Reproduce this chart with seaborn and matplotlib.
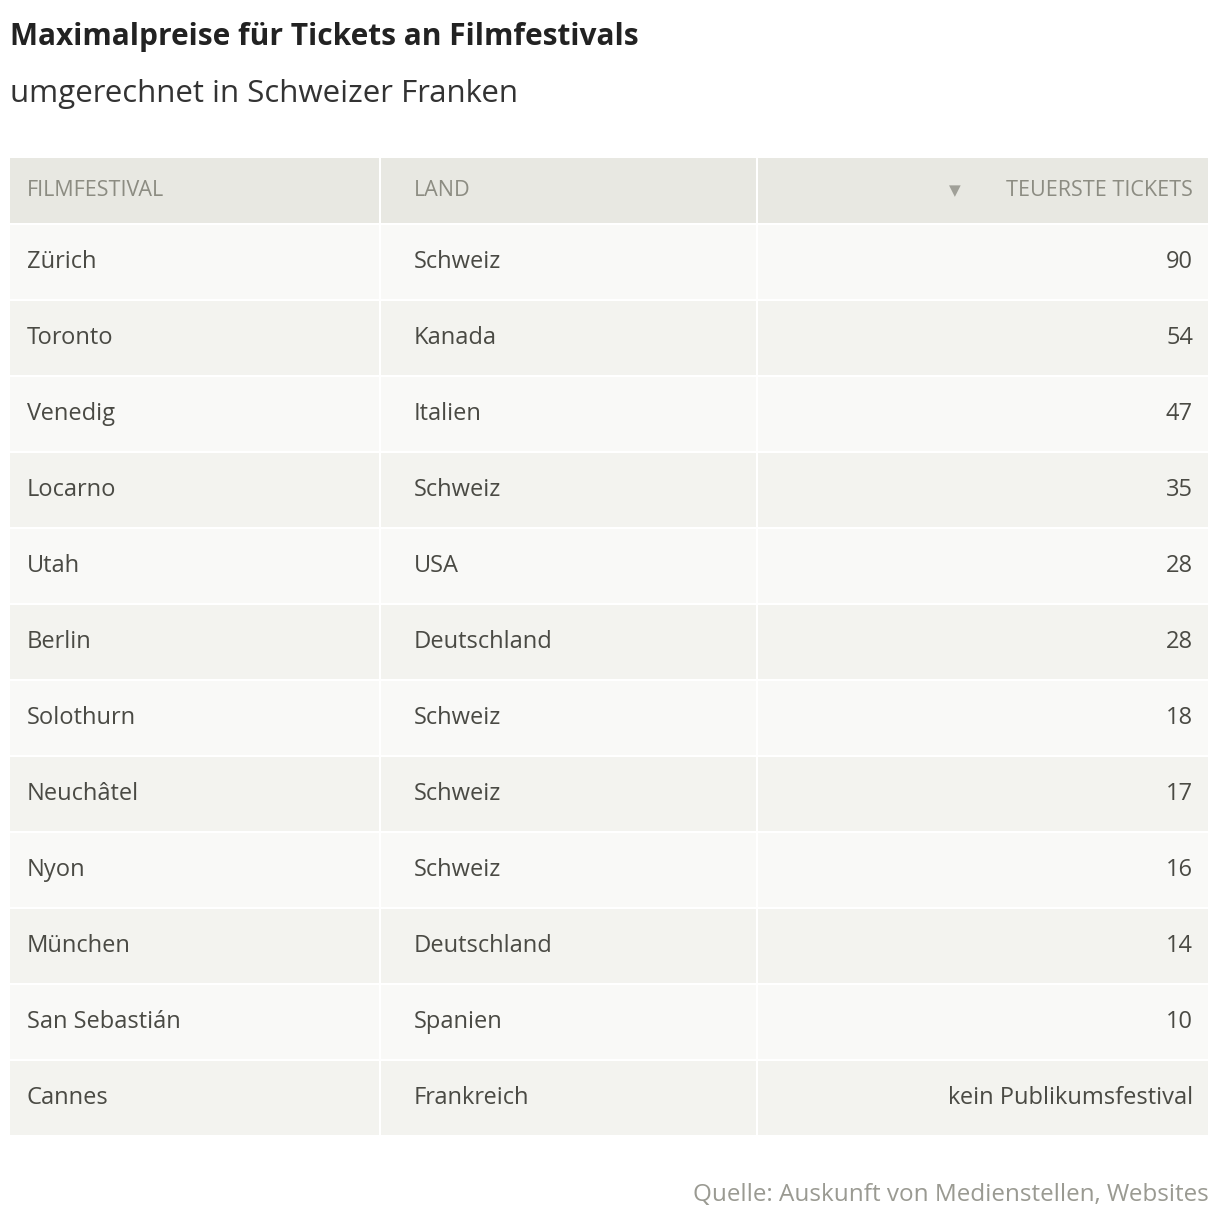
import matplotlib
matplotlib.use("Agg")
import matplotlib.pyplot as plt
import seaborn as sns

festivals = ["Zürich", "Toronto", "Venedig", "Locarno", "Utah", "Berlin", "Solothurn",
             "Neuchâtel", "Nyon", "München", "San Sebastián", "Cannes"]
countries = ["Schweiz", "Kanada", "Italien", "Schweiz", "USA", "Deutschland", "Schweiz",
             "Schweiz", "Schweiz", "Deutschland", "Spanien", "Frankreich"]
prices = ["90", "54", "47", "35", "28", "28", "18", "17", "16", "14", "10", "kein Publikumsfestival"]
headers = ["FILMFESTIVAL", "LAND", "TEUERSTE TICKETS"]

sns.set_theme(style="white", font="Open Sans")
W, H = 1220, 1226
fig = plt.figure(figsize=(W / 100, H / 100), dpi=100)
ax = fig.add_axes([0, 0, 1, 1])
ax.set_xlim(0, W)
ax.set_ylim(H, 0)
ax.axis("off")

col_edges = [10, 381, 758, 1210]
text_col = "#4a4a44"
head_col = "#8c8c82"
body_fs = 17
head_fs = 15.5

# header
ax.barh(190.5, [e - s - 2 for s, e in zip(col_edges[:-1], col_edges[1:])], left=col_edges[:-1],
        height=65, color="#e8e8e2", edgecolor="none")
ax.text(27, 191, headers[0], fontsize=head_fs, color=head_col, va="center")
ax.text(414, 191, headers[1], fontsize=head_fs, color=head_col, va="center")
ax.text(1193, 191, headers[2], fontsize=head_fs, color=head_col, va="center", ha="right")
ax.text(955, 191, "▼", fontsize=11, color="#a0a098", va="center", ha="center",
        fontfamily="DejaVu Sans")

# rows
row_h = 76
y0 = 225
for i, (f, c, p) in enumerate(zip(festivals, countries, prices)):
    yc = y0 + i * row_h + row_h / 2 - 1
    colr = "#f9f9f7" if i % 2 == 0 else "#f3f3ef"
    ax.barh(yc, [e - s - 2 for s, e in zip(col_edges[:-1], col_edges[1:])], left=col_edges[:-1],
            height=row_h - 2, color=colr, edgecolor="none")
    ax.text(27, yc, f, fontsize=body_fs, color=text_col, va="center")
    ax.text(414, yc, c, fontsize=body_fs, color=text_col, va="center")
    ax.text(1193, yc, p, fontsize=body_fs, color=text_col, va="center", ha="right")

fig.text(10 / W, 1 - 37 / H, "Maximalpreise für Tickets an Filmfestivals", fontsize=21.5,
         fontweight="bold", color="#222222", va="center")
fig.text(10 / W, 1 - 94 / H, "umgerechnet in Schweizer Franken", fontsize=22.5,
         color="#333333", va="center")
fig.text(1209 / W, 1 - 1195 / H, "Quelle: Auskunft von Medienstellen, Websites", fontsize=17.5,
         color="#9a9a92", va="center", ha="right")

fig.savefig("out.png", dpi=100, facecolor="white")
